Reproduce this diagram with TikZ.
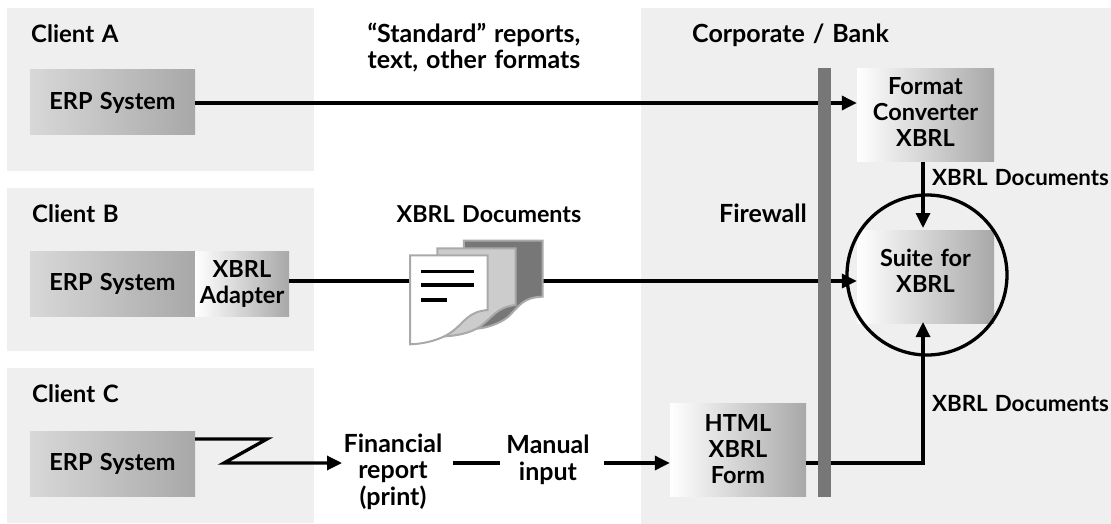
\documentclass[tikz,border=0pt]{standalone}
\usepackage{fontspec}
\setmainfont[WordSpace=1.3]{Lato}
\usetikzlibrary{arrows.meta,shadings}
\definecolor{panel}{HTML}{EFEFEF}
\definecolor{fw}{HTML}{777777}
\definecolor{gdark}{HTML}{A8A8A8}
\definecolor{gmid}{HTML}{D8D8D8}
\definecolor{edge}{HTML}{A9A9A9}
\tikzset{
  panelbox/.style={fill=panel,draw=none},
  erpbox/.style={draw=none,left color=gmid,right color=gdark,minimum width=165pt,minimum height=65pt,inner sep=0pt,align=center,font=\bfseries\fontsize{23.5}{26}\selectfont},
  grad/.style={draw=none,left color=white,right color=gdark,inner sep=0pt,align=center,font=\bfseries\fontsize{23.5}{26}\selectfont},
  lbl/.style={inner sep=0pt,align=center,anchor=base,font=\bfseries\fontsize{25}{26.5}\selectfont},
  lft/.style={lbl,anchor=base west,font=\bfseries\fontsize{24}{27}\selectfont},
  xlbl/.style={lft,font=\bfseries\fontsize{22.3}{27}\selectfont},
  conn/.style={line width=3.3pt,draw=black},
  arr/.style={conn,-{Triangle[length=15pt,width=14pt]}},
  page/.style={draw=edge,line width=2pt,line join=miter}
}
\begin{document}
\begin{tikzpicture}[x=1pt,y=-1pt]
\useasboundingbox (0,0) rectangle (1111,524);
\fill[white] (0,0) rectangle (1111,524);
\fill[panelbox] (7,8) rectangle (314,171);
\fill[panelbox] (7,188) rectangle (314,351);
\fill[panelbox] (7,368) rectangle (314,523);
\fill[panelbox] (641,8) rectangle (1111,524);

\node[lft] (ca) at (31,43) {Client A};
\node[lft] (cb) at (32,222) {Client B};
\node[lft] (cc) at (32,402) {Client C};
\node[lft,font=\bfseries\fontsize{25}{27}\selectfont] (corp) at (692,43) {Corporate / Bank};
\node[lbl] (std) at (474,69) {“Standard” reports,\\text, other formats};
\node[lbl,font=\bfseries\fontsize{23.3}{27}\selectfont] (xd) at (489,222) {XBRL Documents};
\node[lbl] (fwl) at (763,222) {Firewall};
\node[xlbl] (xd1) at (932,185) {XBRL Documents};
\node[xlbl] (xd2) at (932,411) {XBRL Documents};
\node[lbl] (fin) at (393,505) {Financial\\report\\(print)};
\node[lbl] (man) at (548,480) {Manual\\input};

\node[erpbox] (erpa) at (112.5,102.5) {ERP System};
\node[erpbox] (erpb) at (112.5,283.5) {ERP System};
\node[grad,minimum width=94pt,minimum height=65pt] (adp) at (242,283.5) {XBRL\\Adapter};
\node[erpbox] (erpc) at (112.5,463.5) {ERP System};
\node[grad,minimum width=137pt,minimum height=93pt,text depth=6pt] (fmt) at (925.5,115.5) {Format\\Converter\\XBRL};
\node[grad,minimum width=137pt,minimum height=93pt,text depth=12pt] (suite) at (925.5,276.5) {Suite for\\XBRL};
\node[grad,minimum width=136pt,minimum height=93pt] (html) at (738,449.5) {HTML\\XBRL\\Form};

% connectors
\coordinate (zb) at (267,439);
\coordinate (zc) at (224,463);
\coordinate (fincoord) at (342,463);
\coordinate (man1) at (453,463);
\coordinate (man2) at (500,463);
\coordinate (man3) at (604,463);
\coordinate (bend) at (923,463);
\coordinate (up) at (923,322);
\coordinate (down) at (923,228);
\coordinate (ib) at (410,281);
\coordinate (ie) at (543,281);
\draw[arr] (erpa.east |- 0,103) -- (fmt.west |- 0,103);
\draw[conn] (adp.east |- 0,281) -- (ib);
\draw[arr] (ie) -- (suite.west |- 0,281);
\draw[conn,line join=miter,-{Triangle[length=15pt,width=14pt]}] (erpc.east |- 0,439) -- (zb) -- (zc) -- (fincoord);
\draw[conn] (man1) -- (man2);
\draw[arr] (man3) -- (html.west |- 0,463);
\draw[conn,line join=miter,-{Triangle[length=15pt,width=14pt]}] (html.east |- 0,463) -- (bend) -- (up);
\draw[arr] (fmt.south -| 923,0) -- (down);

% firewall
\fill[fw] (818,68) rectangle (831,497);

% circle
\node[circle,draw=black,line width=3.3pt,minimum size=160pt,inner sep=0pt] (ring) at (927,275) {};

% document icon (3x crop of 380,220)
\begin{scope}[shift={(380,220)},x=0.3333pt,y=-0.3333pt]
\draw[page,fill=fw] (252,62) -- (488,62) -- (488,230) .. controls (430,232) and (420,255) .. (385,290) .. controls (355,315) and (310,325) .. (290,326) -- (252,326) -- cycle;
\draw[page,fill=black!20] (172,85) -- (407,85) -- (407,255) .. controls (350,262) and (340,290) .. (300,320) .. controls (270,340) and (230,347) .. (195,349) -- (172,349) -- cycle;
\draw[page,fill=white] (90,106) -- (323,106) -- (323,270) .. controls (265,275) and (255,305) .. (220,332) .. controls (185,360) and (130,372) .. (90,373) -- cycle;
\fill[black] (122,149) rectangle (282,160);
\fill[black] (122,190) rectangle (282,201);
\fill[black] (122,235) rectangle (200,245);
\end{scope}
\end{tikzpicture}
\end{document}
